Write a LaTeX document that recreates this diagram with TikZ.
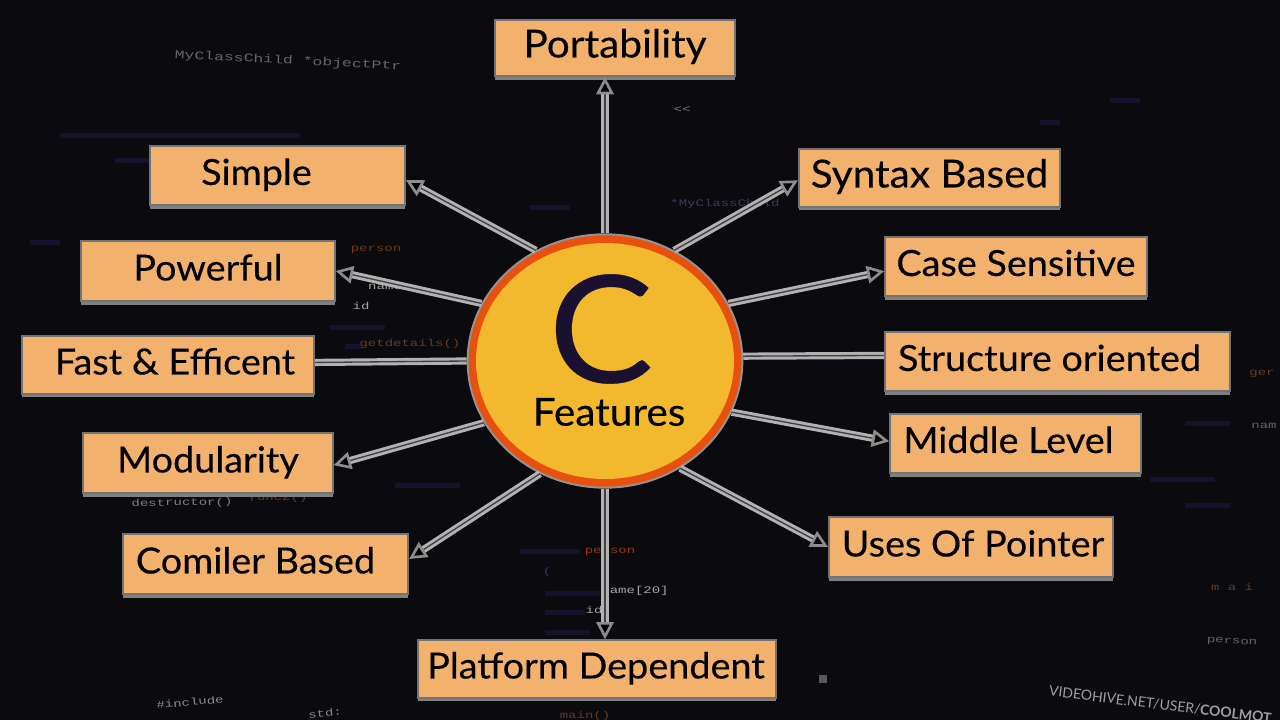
\documentclass[tikz,border=0pt]{standalone}
\usepackage{fontspec}
\setmainfont[FakeStretch=1.05,FakeBold=0.25]{Lato}
\newfontfamily\markfont{Lato}
\newfontfamily\codefont[FakeStretch=1.4]{Liberation Mono}
\usetikzlibrary{arrows.meta,shapes.geometric,shadows}
\definecolor{bgdark}{HTML}{0A0A0F}
\definecolor{boxtan}{HTML}{F2B16C}
\definecolor{hubyellow}{HTML}{F2B92E}
\definecolor{hubred}{HTML}{E8500F}
\definecolor{letterdark}{HTML}{1A1030}
\definecolor{codepurple}{HTML}{41365E}
\definecolor{codedim}{HTML}{16122C}
\definecolor{codeorange}{HTML}{6A3A1E}
\definecolor{codered}{HTML}{8A3A20}
\tikzset{
  featbox/.style={rectangle,draw=black!55,line width=1.4pt,fill=boxtan,inner sep=0pt,
    drop shadow={shadow xshift=0pt,shadow yshift=-2.8pt,fill=black!50,opacity=1},
    text height=16pt,text depth=1.8pt,font=\fontsize{27}{27}\selectfont,text=black},
  bigtext/.style={font=\fontsize{29}{29}\selectfont},
  featline/.style={draw=black!30,line width=2.2pt,double=black!75,double distance=1pt},
  feattip/.style={-{Triangle[length=13pt,width=13pt,fill=black,color=black!45,line width=2pt]}},
  codetext/.style={font=\fontsize{7.5}{7.5}\selectfont\codefont,text=codepurple,inner sep=0pt},
}
\begin{document}
\begin{tikzpicture}[x=0.75pt,y=-0.75pt]
  \useasboundingbox (0,0) rectangle (1280,720);
  \fill[bgdark] (0,0) rectangle (1280,720);

  % faint code behind the diagram
  \foreach \xa/\ya/\xb in {60/133/300,115/158/150,30/240/60,530/205/570,1150/477/1215,1185/421/1230,1185/503/1230,
    520/549/580,545/591/600,545/610/585,545/630/590,395/483/460,1040/120/1060,1110/98/1140,330/325/385,345/344/362}
    \fill[codedim] (\xa,\ya) rectangle (\xb,\ya+5);
  \node[codetext,rotate=-3,font=\fontsize{8.8}{8.8}\selectfont\codefont,text=black!60] (objptr) at (288,61) {MyClassChild *objectPtr};
  \node[codetext] (topchild) at (725,204) {*MyClassChild};
  \node[codetext,text=black!50] (shiftop) at (682,110) {<<};
  \node[codetext,text=codeorange] (personone) at (376,250) {person};
  \node[codetext,text=black!35] (nameone) at (385,287) {name};
  \node[codetext,text=black!35] (idone) at (361,306) {id};
  \node[codetext,text=codeorange] (details) at (410,344) {getdetails()};
  \node[codetext,text=black!50,rotate=1] (destructor) at (182,503) {destructor()};
  \node[codetext,text=codeorange,rotate=1] (functwo) at (278,498) {func2()};
  \node[codetext,text=codered] (persontwo) at (610,552) {person};
  \node[codetext] (bracket) at (547,572) {(};
  \node[codetext,text=black!35] (nametwo) at (635,591) {name[20]};
  \node[codetext,text=black!35] (idtwo) at (594,610) {id};
  \node[codetext,text=black!45,rotate=5] (incl) at (190,702) {\#include};
  \node[codetext,text=black!45,rotate=5] (stdname) at (325,713) {std:};
  \node[codetext,text=codeorange] (maincall) at (585,716) {main()};
  \node[codetext,text=black!60,rotate=-3] (personthree) at (1232,642) {person};
  \node[codetext,text=codeorange] (rightcode) at (1232,587) {m a i};
  \node[codetext,text=black!60] (rightname) at (1264,426) {nam};
  \node[codetext,text=codeorange] (rightother) at (1262,374) {ger};
  \fill[black!65] (819,675) rectangle (827,683);

  % hub
  \node[ellipse,draw=gray!85,line width=1.5pt,fill=hubred,minimum width=206pt,minimum height=190pt,inner sep=0pt] (hub) at (605,361) {};
  \fill[hubyellow] (605,361) ellipse [x radius=129,y radius=118];
  \node[font=\fontsize{112}{112}\selectfont,text=letterdark,inner sep=0pt] (letterc) at (601,329) {C};
  \node[font=\fontsize{29}{29}\selectfont,text=black,inner sep=0pt] (hubname) at (609,412) {Features};

  % boxes
  \node[featbox,bigtext,minimum width=180pt,minimum height=42pt] (portability) at (615,48) {Portability};
  \node[featbox,minimum width=191pt,minimum height=44pt] (simple) at (277.5,175.5) {\kern-31.5pt Simple};
  \node[featbox,bigtext,minimum width=196pt,minimum height=43pt] (syntax) at (929.5,178) {Syntax Based};
  \node[featbox,minimum width=190pt,minimum height=45pt] (powerful) at (208,271) {Powerful};
  \node[featbox,minimum width=196pt,minimum height=44pt] (casesens) at (1016,266.5) {Case Sensitive};
  \node[featbox,minimum width=219pt,minimum height=43pt] (fast) at (168,365) {\kern10.5pt Fast \& Efficent};
  \node[featbox,minimum width=259pt,minimum height=44pt] (structure) at (1057.5,361.5) {\kern-12pt Structure oriented};
  \node[featbox,minimum width=187pt,minimum height=45pt] (modularity) at (208,463) {Modularity};
  \node[featbox,minimum width=188pt,minimum height=44pt] (middle) at (1015.5,443.5) {\kern-10.5pt Middle Level};
  \node[featbox,minimum width=214pt,minimum height=45pt] (compiler) at (265.5,564) {\kern-15pt Comiler Based};
  \node[featbox,minimum width=213pt,minimum height=45pt] (pointer) at (971,547) {\kern3pt Uses Of Pointer};
  \node[featbox,minimum width=268pt,minimum height=43pt] (platform) at (597,669) {\kern-1.5pt Platform Dependent};

  % connectors
  \draw[featline,feattip] (hub.north) -- (hub.north |- portability.south);
  \draw[featline,feattip] (hub.122) -- (simple.-2);
  \draw[featline,feattip] (hub.58) -- (syntax.181);
  \draw[featline,feattip] (hub.155) -- (powerful.0);
  \draw[featline,feattip] (hub.25) -- (casesens.182);
  \draw[featline] (hub.west) -- (fast.1);
  \draw[featline] (hub.2) -- (structure.178.5);
  \draw[featline,feattip] (hub.-153) -- (modularity.-1);
  \draw[featline,feattip] (hub.-22) -- (middle.179);
  \draw[featline,feattip] (hub.-120) -- (compiler.2);
  \draw[featline,feattip] (hub.-55) -- (pointer.180);
  \draw[featline,feattip] (hub.south) -- (hub.south |- platform.north);

  % watermark
  \node[anchor=west,rotate=-7,inner sep=0pt,font=\fontsize{10.5}{10.5}\selectfont\markfont,text=gray!75] (mark) at (1049,691) {VIDEOHIVE.NET/USER/\textbf{COOLMOT}};
\end{tikzpicture}
\end{document}
